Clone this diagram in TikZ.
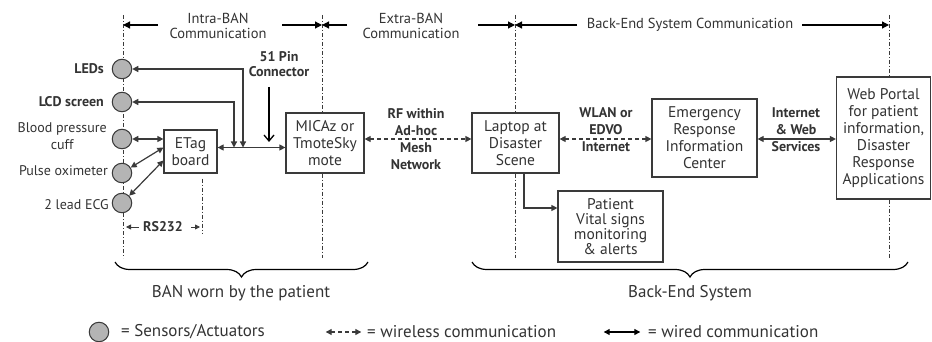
\documentclass[tikz,border=0pt]{standalone}
\usepackage{fontspec}
\setmainfont{PT Sans}
\usetikzlibrary{arrows.meta,decorations.pathreplacing,calc}
\definecolor{ink}{HTML}{3A3A3A}
\definecolor{txt}{HTML}{333333}
\definecolor{sensorfill}{HTML}{B4B4B4}

\newcommand{\toplabel}{\fontsize{14.5}{15}\selectfont}
\newcommand{\sidelabel}{\fontsize{14}{17}\selectfont}
\newcommand{\boxlabel}{\fontsize{15.5}{17}\selectfont}
\newcommand{\linklabel}{\fontsize{14}{17}\selectfont\bfseries}
\newcommand{\biglabel}{\fontsize{17}{18}\selectfont}

\begin{document}
\begin{tikzpicture}[x=1pt,y=-1pt,
  every node/.style={text=txt, inner sep=0pt},
  wire/.style={draw=ink, line width=1.2pt, {Triangle[length=6pt,width=6pt]}-{Triangle[length=6pt,width=6pt]}},
  wless/.style={draw=ink, line width=1.2pt, dash pattern=on 4pt off 3pt, {Triangle[length=6pt,width=6pt]}-{Triangle[length=6pt,width=6pt]}},
  oneway/.style={draw=ink, line width=1.2pt, -{Triangle[length=6pt,width=6pt]}},
  span/.style={draw=black, line width=1.2pt, -{Triangle[length=7pt,width=7pt]}},
  divider/.style={draw=ink, line width=0.8pt, dash pattern=on 4pt off 2pt on 1pt off 2pt},
  sensor/.style={circle, draw=ink, line width=1pt, fill=sensorfill, minimum size=19.5pt},
  unit/.style={draw=ink, line width=1.2pt, fill=white, align=center, font=\boxlabel},
  bracket/.style={draw=black, line width=1.2pt, decorate, decoration={brace, amplitude=15pt, mirror}}
]
\useasboundingbox (0,0) rectangle (932,342);

% ---------- section dividers ----------
\coordinate (dA1) at (123,15);  \coordinate (dA2) at (123,258);
\coordinate (dB1) at (322,15);  \coordinate (dB2) at (322,258);
\coordinate (dC1) at (515,15);  \coordinate (dC2) at (515,258);
\coordinate (dD1) at (889,15);  \coordinate (dD2) at (889,258);
\draw[divider] (dA1) -- (dA2);

% ---------- boxes ----------
\node[unit, minimum width=53pt, minimum height=43pt] (etag) at (190.5,151.5) {ETag\\board};
\node[unit, minimum width=78pt, minimum height=60pt] (mote) at (325,143) {MICAz or\\TmoteSky\\mote};
\node[unit, minimum width=87pt, minimum height=60pt] (laptop) at (515.5,143) {Laptop at\\Disaster\\Scene};
\node[unit, minimum width=105pt, minimum height=71pt, font=\fontsize{15.5}{15}\selectfont] (vital) at (610.5,226.5) {Patient\\Vital signs\\monitoring\\\& alerts};
\node[unit, minimum width=105pt, minimum height=78pt] (eric) at (704.5,138) {Emergency\\Response\\Information\\Center};
\node[unit, minimum width=94pt, minimum height=122pt] (portal) at (883.5,138) {Web Portal\\for patient\\information,\\Disaster\\Response\\Applications};

\draw[divider] (dB1) -- (dB1 |- mote.north);
\draw[divider] (dB2 |- mote.south) -- (dB2);
\draw[divider] (dC1) -- (dC1 |- laptop.north);
\draw[divider] (dC2 |- laptop.south) -- (dC2);
\draw[divider] (dD1) -- (dD1 |- portal.north);
\draw[divider] (dD2 |- portal.south) -- (dD2);

% ---------- top section headings ----------
\node[align=center, font=\toplabel] (intra) at (218,25.5) {Intra-BAN\\Communication};
\node[align=center, font=\toplabel] (extra) at (411,25.5) {Extra-BAN\\Communication};
\node[font=\toplabel] (backcom) at (690,25) {Back-End System Communication};
\coordinate (iL) at (158,25); \coordinate (iR) at (282,25);
\coordinate (eL) at (347,25); \coordinate (eR) at (478,25);
\coordinate (bL) at (577,25); \coordinate (bR) at (802,25);
\draw[span] (iL) -- (dA1 |- iL);
\draw[span] (iR) -- (dB1 |- iR);
\draw[span] (eL) -- (dB1 |- eL);
\draw[span] (eR) -- (dC1 |- eR);
\draw[span] (bL) -- (dC1 |- bL);
\draw[span] (bR) -- (dD1 |- bR);

% ---------- sensors and actuators ----------
\node[sensor] (led) at (122,69) {};
\node[sensor] (lcd) at (122,102) {};
\node[sensor] (bp)  at (122,139) {};
\node[sensor] (pox) at (122,173) {};
\node[sensor] (ecg) at (122,203) {};

\node[anchor=east, font=\linklabel] at (104,69) {LEDs};
\node[anchor=east, font=\linklabel] at (104,102) {LCD screen};
\node[anchor=east, align=center, font=\sidelabel] at (107,136) {Blood pressure\\cuff};
\node[anchor=east, font=\sidelabel] at (108,171) {Pulse oximeter};
\node[anchor=east, font=\sidelabel] at (109,205) {2 lead ECG};

% ---------- intra-BAN wiring ----------
\coordinate (busL) at ($(etag.east)+(0,-4)$);
\coordinate (tapLED) at (243,147.5);
\coordinate (tapLCD) at (234,147.5);
\draw[wire] (bp.east) -- (bp.east -| etag.west);
\draw[wire] (pox.32) -- ($(etag.west)+(0,-4)$);
\draw[wire] (ecg.45) -- ($(etag.west)+(0,9)$);
\draw[wire] (busL) -- (busL -| mote.west);
\draw[wire] (led.east) -| (tapLED);
\draw[wire] (lcd.east) -| (tapLCD);

\node[align=center, font=\fontsize{14}{15}\selectfont\bfseries] (pin) at (279,64.5) {51 Pin\\Connector};
\coordinate (pinTip) at (269,142);
\draw[draw=black, line width=1.3pt, -{Straight Barb[length=6pt,width=10pt]}] (pinTip |- 0,87) -- (pinTip);

% ---------- RS232 span ----------
\coordinate (rsR) at (202,233);
\draw[divider] ($(etag.south -| rsR)+(0,5)$) -- (rsR);
\node[font=\linklabel] (rs) at (163,227) {RS232};
\draw[draw=ink, line width=0.8pt, -{Triangle[length=5pt,width=5pt]}] (rs.west) ++(-4,0) -- (126,227);
\draw[draw=ink, line width=0.8pt, -{Triangle[length=5pt,width=5pt]}] (rs.east) ++(8,0) -- (200,227);

% ---------- wireless and back-end links ----------
\node[align=center, font=\linklabel] at (416,139.5) {RF within\\Ad-hoc\\Mesh\\Network};
\draw[wless] (mote.east |- 0,139) -- (laptop.west |- 0,139);

\node[align=center, font=\linklabel] at (606,130) {WLAN or\\EDVO\\Internet};
\draw[wless] (laptop.east |- 0,139) -- (eric.west |- 0,139);

\node[align=center, font=\linklabel] at (796,130) {Internet\\\& Web\\Services};
\draw[wire] (eric.east |- 0,139) -- (portal.west |- 0,139);

\coordinate (drop) at (524,208);
\draw[oneway] (laptop.south -| drop) -- (drop) -- (drop -| vital.west);

% ---------- grouping braces ----------
\draw[bracket] (115,262) -- (368,262);
\draw[bracket] (472,262) -- (908,262);
\node[font=\biglabel] (ban) at (241,293) {BAN worn by the patient};
\node[font=\biglabel] (bes) at (690,293) {Back-End System};

% ---------- legend ----------
\node[sensor] (keysensor) at (99,332) {};
\node[anchor=west, font=\biglabel] (keytxtA) at (121,332) {= Sensors/Actuators};
\node (kwA) at (325,332) {}; \node (kwB) at (362,332) {};
\draw[wless] (kwA) -- (kwB);
\node[anchor=west, font=\biglabel] (keytxtB) at (367,332) {= wireless communication};
\node (kdA) at (603,332) {}; \node (kdB) at (641,332) {};
\draw[wire, draw=black] (kdA) -- (kdB);
\node[anchor=west, font=\biglabel] (keytxtC) at (648,332) {= wired communication};
\end{tikzpicture}
\end{document}
